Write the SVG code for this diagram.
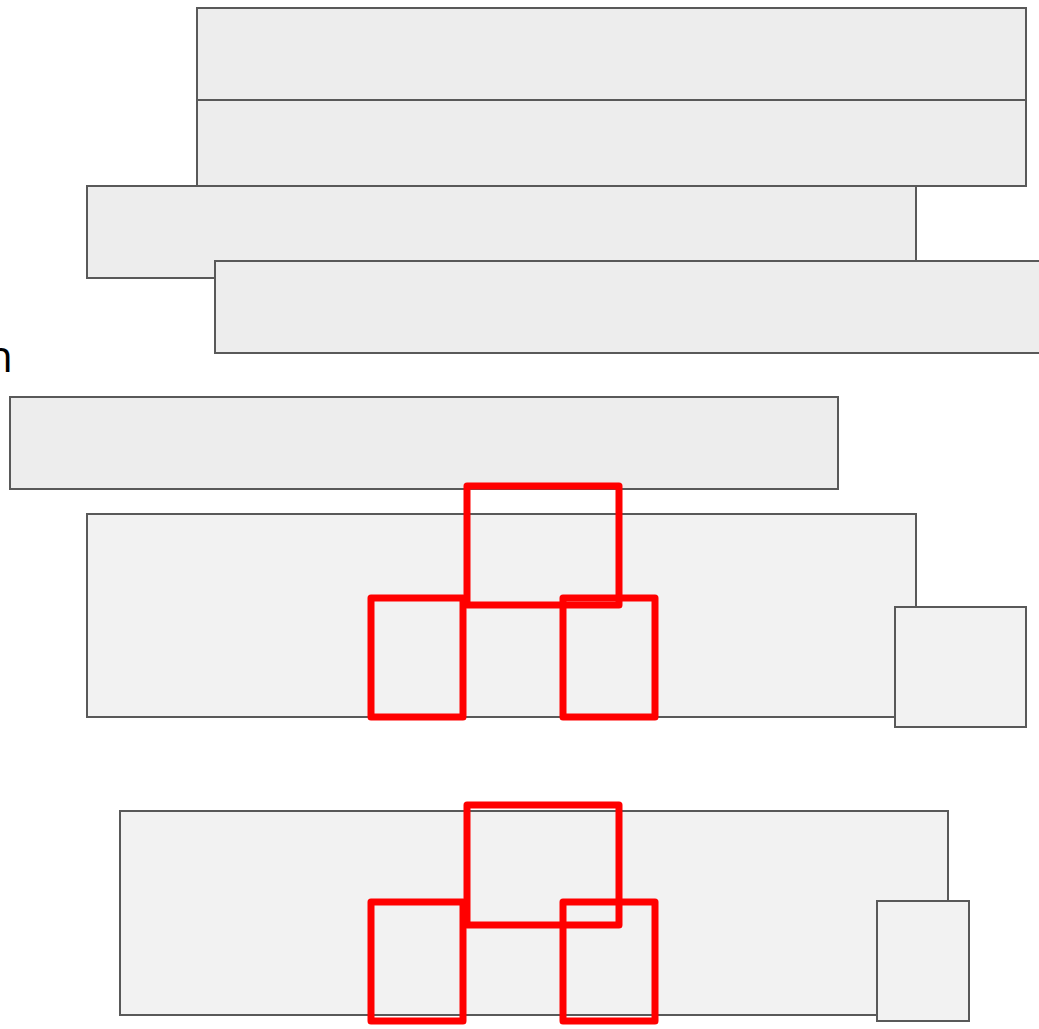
<svg xmlns="http://www.w3.org/2000/svg" width="1039" height="1029" viewBox="0 0 1039 1029">
<style>
.g{fill:#ededed;stroke:#595959;stroke-width:2}
.h{fill:#f2f2f2;stroke:#595959;stroke-width:2}
.r{fill:none;stroke:#ff0000;stroke-width:7;stroke-linejoin:round}
</style>
<rect width="1039" height="1029" fill="#ffffff"/>
<g id="n1"><rect class="g" x="197" y="8" width="829" height="92"/></g>
<g id="n2"><rect class="g" x="197" y="100" width="829" height="86"/></g>
<g id="n3"><rect class="g" x="87" y="186" width="829" height="92"/></g>
<g id="n4"><rect class="g" x="215" y="261" width="829" height="92"/></g>
<g id="label"><text x="13" y="372" text-anchor="end" font-family="Open Sans, sans-serif" font-size="44" fill="#000000">n</text></g>
<g id="n5"><rect class="g" x="10" y="397" width="828" height="92"/></g>
<g id="n6"><rect class="h" x="87" y="514" width="829" height="203"/></g>
<g id="n7"><rect class="h" x="895" y="607" width="131" height="120"/></g>
<g id="n8"><rect class="h" x="120" y="811" width="828" height="204"/></g>
<g id="n9"><rect class="h" x="877" y="901" width="92" height="120"/></g>
<g id="connectors">
<rect class="r" x="467" y="486" width="152" height="119"/>
<rect class="r" x="371" y="598" width="92" height="119"/>
<rect class="r" x="563" y="598" width="92" height="119"/>
<rect class="r" x="467" y="805" width="152" height="120"/>
<rect class="r" x="371" y="902" width="92" height="119"/>
<rect class="r" x="563" y="902" width="92" height="119"/>
</g>
</svg>
